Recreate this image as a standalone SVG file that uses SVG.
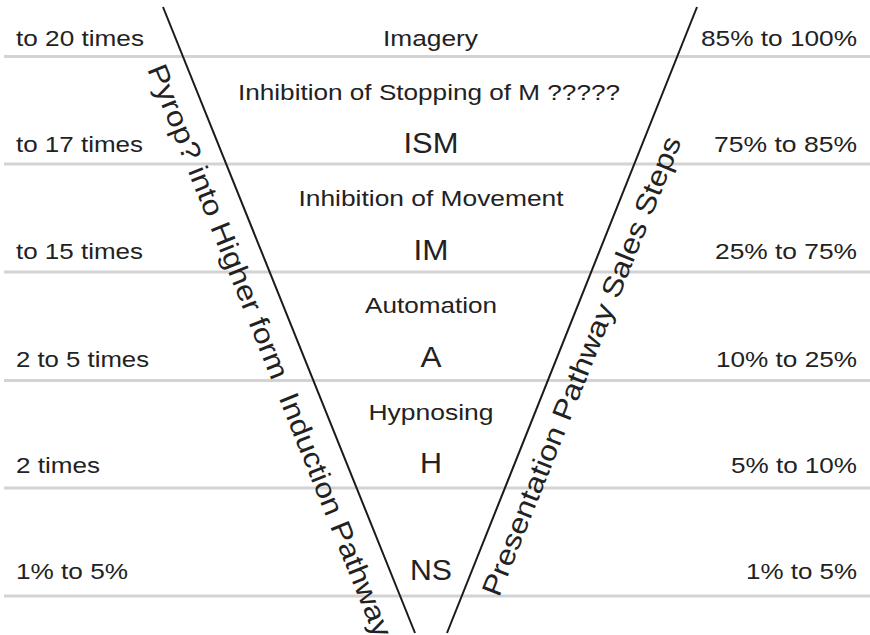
<svg xmlns="http://www.w3.org/2000/svg" width="870" height="635" viewBox="0 0 870 635">
<style>
text { font-family: "Liberation Sans", Arial, sans-serif; fill: #222; }
.s { font-size: 22px; }
.b { font-size: 29px; }
.r { font-size: 28px; }
.m { text-anchor: middle; }
.e { text-anchor: end; }
.row { stroke: #d3d3d3; stroke-width: 3; fill: none; }
.v { stroke: #1a1a1a; stroke-width: 2; fill: none; }
</style>
<rect width="870" height="635" fill="#ffffff"/>
<g id="rows">
<line class="row" x1="4" y1="56.5" x2="870" y2="56.5"/>
<line class="row" x1="4" y1="164" x2="870" y2="164"/>
<line class="row" x1="4" y1="272" x2="870" y2="272"/>
<line class="row" x1="4" y1="380.5" x2="870" y2="380.5"/>
<line class="row" x1="4" y1="488" x2="870" y2="488"/>
<line class="row" x1="4" y1="596" x2="870" y2="596"/>
</g>
<g id="connectors">
<line class="v" x1="163" y1="7" x2="415" y2="633"/>
<line class="v" x1="697" y1="7" x2="447" y2="633"/>
</g>
<g id="left-labels">
<text class="s" x="16" y="46" textLength="128" lengthAdjust="spacingAndGlyphs">to 20 times</text>
<text class="s" x="16" y="152" textLength="127" lengthAdjust="spacingAndGlyphs">to 17 times</text>
<text class="s" x="16" y="259" textLength="127" lengthAdjust="spacingAndGlyphs">to 15 times</text>
<text class="s" x="16" y="367" textLength="133" lengthAdjust="spacingAndGlyphs">2 to 5 times</text>
<text class="s" x="16" y="473" textLength="84" lengthAdjust="spacingAndGlyphs">2 times</text>
<text class="s" x="16" y="579" textLength="112" lengthAdjust="spacingAndGlyphs">1% to 5%</text>
</g>
<g id="right-labels">
<text class="s e" x="857" y="46" textLength="156" lengthAdjust="spacingAndGlyphs">85% to 100%</text>
<text class="s e" x="857" y="152" textLength="143" lengthAdjust="spacingAndGlyphs">75% to 85%</text>
<text class="s e" x="857" y="259" textLength="142" lengthAdjust="spacingAndGlyphs">25% to 75%</text>
<text class="s e" x="857" y="367" textLength="141" lengthAdjust="spacingAndGlyphs">10% to 25%</text>
<text class="s e" x="857" y="473" textLength="126" lengthAdjust="spacingAndGlyphs">5% to 10%</text>
<text class="s e" x="857" y="579" textLength="111" lengthAdjust="spacingAndGlyphs">1% to 5%</text>
</g>
<g id="node-imagery"><text class="s m" x="430.5" y="46" textLength="95" lengthAdjust="spacingAndGlyphs">Imagery</text></g>
<g id="node-ism">
<text class="s m" x="429" y="99.5" textLength="382" lengthAdjust="spacingAndGlyphs">Inhibition of Stopping of M ?????</text>
<text class="b m" x="431" y="153" textLength="55" lengthAdjust="spacingAndGlyphs">ISM</text>
</g>
<g id="node-im">
<text class="s m" x="431" y="206" textLength="265" lengthAdjust="spacingAndGlyphs">Inhibition of Movement</text>
<text class="b m" x="431" y="260" textLength="35" lengthAdjust="spacingAndGlyphs">IM</text>
</g>
<g id="node-a">
<text class="s m" x="431" y="313" textLength="132" lengthAdjust="spacingAndGlyphs">Automation</text>
<text class="b m" x="431" y="367" textLength="21" lengthAdjust="spacingAndGlyphs">A</text>
</g>
<g id="node-h">
<text class="s m" x="431" y="420" textLength="125" lengthAdjust="spacingAndGlyphs">Hypnosing</text>
<text class="b m" x="431" y="473" textLength="22" lengthAdjust="spacingAndGlyphs">H</text>
</g>
<g id="node-ns"><text class="b m" x="431" y="580" textLength="42" lengthAdjust="spacingAndGlyphs">NS</text></g>
<g id="axis-left"><text class="r" transform="translate(147,69) rotate(68.2)" textLength="614" lengthAdjust="spacingAndGlyphs" xml:space="preserve">Pyrop? into Higher form  Induction Pathway</text></g>
<g id="axis-right"><text class="r" transform="translate(499,598) rotate(-68.2)" textLength="492" lengthAdjust="spacingAndGlyphs">Presentation Pathway Sales Steps</text></g>
</svg>
